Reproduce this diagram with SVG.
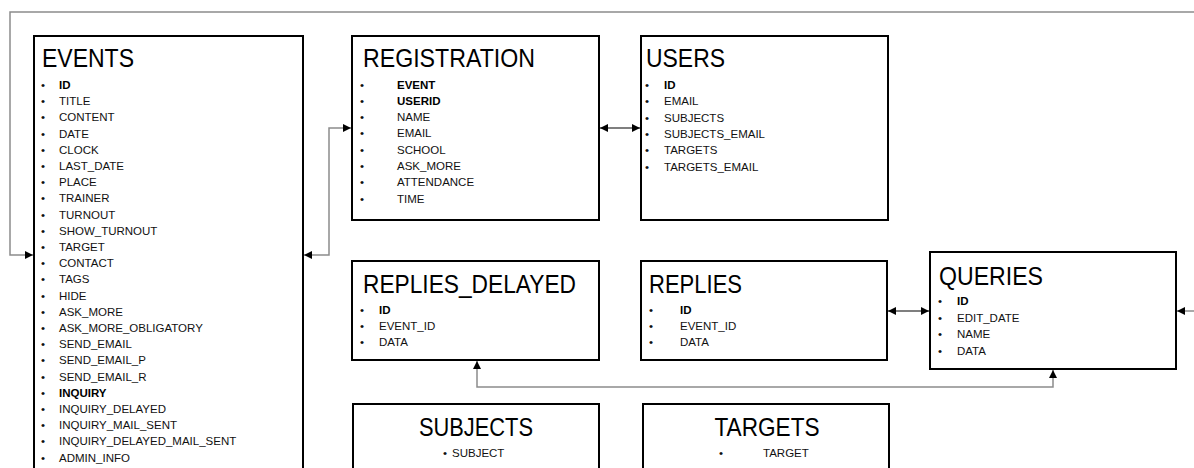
<svg xmlns="http://www.w3.org/2000/svg" width="1194" height="468" viewBox="0 0 1194 468">
<style>
.box{fill:#fff;stroke:#000;stroke-width:2}
.t{font-family:"Liberation Sans",Arial,sans-serif;font-size:26px;fill:#000}
.f{font-family:"Liberation Sans",Arial,sans-serif;font-size:11.5px;fill:#111}
.b{font-weight:bold;fill:#000}
.gl{fill:none;stroke:#8c8c8c;stroke-width:1.5}
.bl{fill:none;stroke:#000;stroke-width:1.2}
</style>
<defs>
<marker id="ah" viewBox="0 0 10 10" refX="10" refY="5" markerWidth="8" markerHeight="8" markerUnits="userSpaceOnUse" orient="auto-start-reverse">
<path d="M0,0 L10,5 L0,10 z" fill="#000"/>
</marker>
</defs>
<rect width="1194" height="468" fill="#fff"/>

<g id="connectors">
<path class="gl" d="M1194,12 H10 V255 H33" marker-end="url(#ah)"/>
<path class="gl" d="M304,255 H329 V128 H351" marker-start="url(#ah)" marker-end="url(#ah)"/>
<path class="bl" d="M600,128 H640" marker-start="url(#ah)" marker-end="url(#ah)"/>
<path class="bl" d="M888,311 H929" marker-start="url(#ah)" marker-end="url(#ah)"/>
<path class="gl" d="M1194,311 H1177" marker-end="url(#ah)"/>
<path class="gl" d="M477,361 V387 H1053 V370" marker-start="url(#ah)" marker-end="url(#ah)"/>
</g>

<g id="events">
<rect class="box" x="34" y="36" width="269" height="450"/>
<text class="t" x="42" y="67" textLength="92" lengthAdjust="spacingAndGlyphs">EVENTS</text>
<g class="f">
<text y="89"><tspan x="41">•</tspan><tspan x="59" class="b">ID</tspan></text>
<text y="105.2"><tspan x="41">•</tspan><tspan x="59">TITLE</tspan></text>
<text y="121.4"><tspan x="41">•</tspan><tspan x="59">CONTENT</tspan></text>
<text y="137.6"><tspan x="41">•</tspan><tspan x="59">DATE</tspan></text>
<text y="153.8"><tspan x="41">•</tspan><tspan x="59">CLOCK</tspan></text>
<text y="170"><tspan x="41">•</tspan><tspan x="59">LAST_DATE</tspan></text>
<text y="186.2"><tspan x="41">•</tspan><tspan x="59">PLACE</tspan></text>
<text y="202.4"><tspan x="41">•</tspan><tspan x="59">TRAINER</tspan></text>
<text y="218.6"><tspan x="41">•</tspan><tspan x="59">TURNOUT</tspan></text>
<text y="234.8"><tspan x="41">•</tspan><tspan x="59">SHOW_TURNOUT</tspan></text>
<text y="251"><tspan x="41">•</tspan><tspan x="59">TARGET</tspan></text>
<text y="267.2"><tspan x="41">•</tspan><tspan x="59">CONTACT</tspan></text>
<text y="283.4"><tspan x="41">•</tspan><tspan x="59">TAGS</tspan></text>
<text y="299.6"><tspan x="41">•</tspan><tspan x="59">HIDE</tspan></text>
<text y="315.8"><tspan x="41">•</tspan><tspan x="59">ASK_MORE</tspan></text>
<text y="332"><tspan x="41">•</tspan><tspan x="59">ASK_MORE_OBLIGATORY</tspan></text>
<text y="348.2"><tspan x="41">•</tspan><tspan x="59">SEND_EMAIL</tspan></text>
<text y="364.4"><tspan x="41">•</tspan><tspan x="59">SEND_EMAIL_P</tspan></text>
<text y="380.6"><tspan x="41">•</tspan><tspan x="59">SEND_EMAIL_R</tspan></text>
<text y="396.8"><tspan x="41">•</tspan><tspan x="59" class="b">INQUIRY</tspan></text>
<text y="413"><tspan x="41">•</tspan><tspan x="59">INQUIRY_DELAYED</tspan></text>
<text y="429.2"><tspan x="41">•</tspan><tspan x="59">INQUIRY_MAIL_SENT</tspan></text>
<text y="445.4"><tspan x="41">•</tspan><tspan x="59">INQUIRY_DELAYED_MAIL_SENT</tspan></text>
<text y="461.6"><tspan x="41">•</tspan><tspan x="59">ADMIN_INFO</tspan></text>
</g>
</g>

<g id="registration">
<rect class="box" x="352" y="36" width="247" height="184"/>
<text class="t" x="363" y="67" textLength="172" lengthAdjust="spacingAndGlyphs">REGISTRATION</text>
<g class="f">
<text y="88.5"><tspan x="360">•</tspan><tspan x="397" class="b">EVENT</tspan></text>
<text y="104.8"><tspan x="360">•</tspan><tspan x="397" class="b">USERID</tspan></text>
<text y="121.1"><tspan x="360">•</tspan><tspan x="397">NAME</tspan></text>
<text y="137.4"><tspan x="360">•</tspan><tspan x="397">EMAIL</tspan></text>
<text y="153.7"><tspan x="360">•</tspan><tspan x="397">SCHOOL</tspan></text>
<text y="170"><tspan x="360">•</tspan><tspan x="397">ASK_MORE</tspan></text>
<text y="186.3"><tspan x="360">•</tspan><tspan x="397">ATTENDANCE</tspan></text>
<text y="202.6"><tspan x="360">•</tspan><tspan x="397">TIME</tspan></text>
</g>
</g>

<g id="users">
<rect class="box" x="641" y="36" width="247" height="184"/>
<text class="t" x="646" y="67" textLength="79" lengthAdjust="spacingAndGlyphs">USERS</text>
<g class="f">
<text y="89"><tspan x="645">•</tspan><tspan x="664" class="b">ID</tspan></text>
<text y="105.3"><tspan x="645">•</tspan><tspan x="664">EMAIL</tspan></text>
<text y="121.6"><tspan x="645">•</tspan><tspan x="664">SUBJECTS</tspan></text>
<text y="137.9"><tspan x="645">•</tspan><tspan x="664">SUBJECTS_EMAIL</tspan></text>
<text y="154.2"><tspan x="645">•</tspan><tspan x="664">TARGETS</tspan></text>
<text y="170.5"><tspan x="645">•</tspan><tspan x="664">TARGETS_EMAIL</tspan></text>
</g>
</g>

<g id="replies_delayed">
<rect class="box" x="352" y="261" width="247" height="99"/>
<text class="t" x="363" y="293" textLength="213" lengthAdjust="spacingAndGlyphs">REPLIES_DELAYED</text>
<g class="f">
<text y="314"><tspan x="360">•</tspan><tspan x="379" class="b">ID</tspan></text>
<text y="330"><tspan x="360">•</tspan><tspan x="379">EVENT_ID</tspan></text>
<text y="346"><tspan x="360">•</tspan><tspan x="379">DATA</tspan></text>
</g>
</g>

<g id="replies">
<rect class="box" x="641" y="261" width="246" height="99"/>
<text class="t" x="649" y="293" textLength="93" lengthAdjust="spacingAndGlyphs">REPLIES</text>
<g class="f">
<text y="314"><tspan x="649">•</tspan><tspan x="680" class="b">ID</tspan></text>
<text y="330"><tspan x="649">•</tspan><tspan x="680">EVENT_ID</tspan></text>
<text y="346"><tspan x="649">•</tspan><tspan x="680">DATA</tspan></text>
</g>
</g>

<g id="queries">
<rect class="box" x="930" y="252" width="246" height="117"/>
<text class="t" x="939" y="285" textLength="104" lengthAdjust="spacingAndGlyphs">QUERIES</text>
<g class="f">
<text y="305"><tspan x="938">•</tspan><tspan x="957" class="b">ID</tspan></text>
<text y="321.5"><tspan x="938">•</tspan><tspan x="957">EDIT_DATE</tspan></text>
<text y="338"><tspan x="938">•</tspan><tspan x="957">NAME</tspan></text>
<text y="354.5"><tspan x="938">•</tspan><tspan x="957">DATA</tspan></text>
</g>
</g>

<g id="subjects">
<rect class="box" x="353" y="404" width="246" height="80"/>
<text class="t" x="476" y="436" text-anchor="middle" textLength="114" lengthAdjust="spacingAndGlyphs">SUBJECTS</text>
<text class="f" y="457"><tspan x="443">•</tspan><tspan x="452">SUBJECT</tspan></text>
</g>

<g id="targets">
<rect class="box" x="643" y="404" width="246" height="80"/>
<text class="t" x="767" y="436" text-anchor="middle" textLength="105" lengthAdjust="spacingAndGlyphs">TARGETS</text>
<text class="f" y="457"><tspan x="719">•</tspan><tspan x="763">TARGET</tspan></text>
</g>
</svg>
